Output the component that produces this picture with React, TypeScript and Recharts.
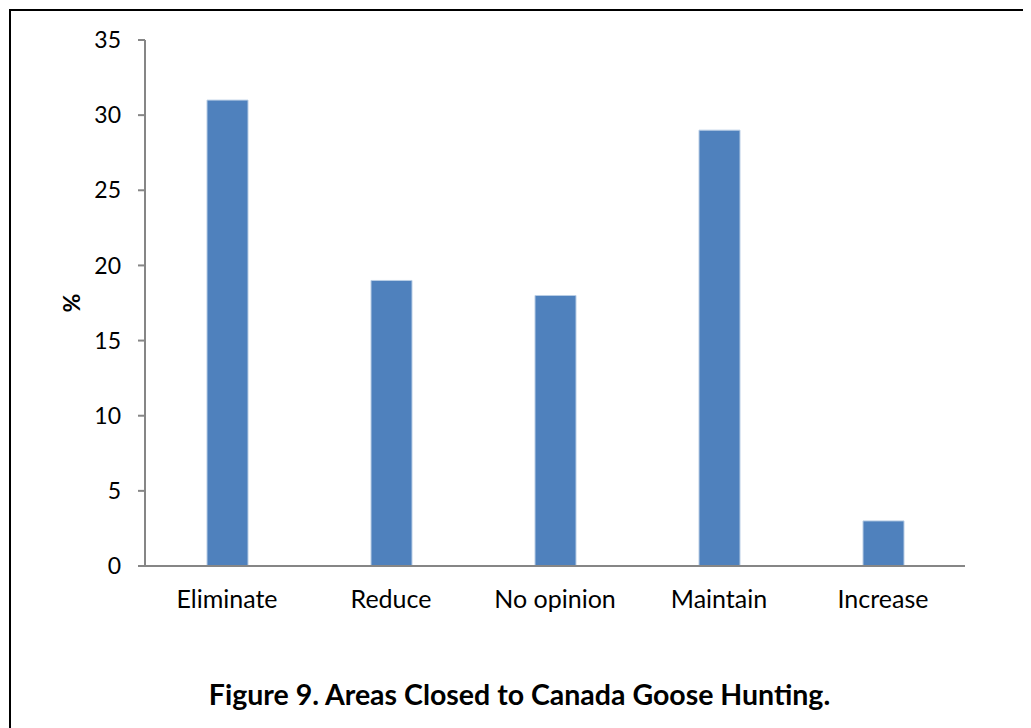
import React from "react";
import { BarChart, Bar, XAxis, YAxis, Label } from "recharts";

const categories = ["Eliminate", "Reduce", "No opinion", "Maintain", "Increase"];
const percentValues = [31, 19, 18, 29, 3];
const yTicks = [0, 5, 10, 15, 20, 25, 30, 35];
const titleText = "Figure 9. Areas Closed to Canada Goose Hunting.";
const yAxisLabel = "%";

const data = categories.map((name, i) => ({ name, value: percentValues[i] }));

const FONT = "Lato, 'Open Sans', sans-serif";

export default function App() {
  return (
    <div style={{ position: "relative", width: 1023, height: 720, fontFamily: FONT }}>
      <div
        style={{
          position: "absolute",
          left: 1,
          top: 1,
          width: 1040,
          height: 740,
          borderTop: "2px solid #000",
          borderLeft: "2px solid #000",
          boxSizing: "border-box",
        }}
      />
      <div style={{ position: "absolute", left: 0, top: 0 }}>
        <BarChart
          width={1023}
          height={720}
          data={data}
          margin={{ top: 32, right: 66, bottom: 132, left: 0 }}
          barCategoryGap={0}
        >
          <YAxis
            width={137}
            domain={[0, 35]}
            ticks={yTicks}
            interval={0}
            axisLine={{ stroke: "#868686", strokeWidth: 2 }}
            tickLine={{ stroke: "#868686", strokeWidth: 2 }}
            tickSize={7}
            tickMargin={17}
            tick={{ fill: "#000", fontSize: 23, fontFamily: FONT }}
          >
            <Label
              value={yAxisLabel}
              angle={-90}
              position="insideLeft"
              offset={64}
              style={{ fill: "#000", fontSize: 23, fontWeight: 700, fontFamily: FONT, textAnchor: "middle" }}
            />
          </YAxis>
          <XAxis
            dataKey="name"
            height={30}
            axisLine={{ stroke: "#868686", strokeWidth: 2 }}
            tickLine={false}
            tickMargin={18}
            interval={0}
            tick={{ fill: "#000", fontSize: 25, fontFamily: FONT }}
          />
          <Bar
            dataKey="value"
            fill="#4F81BD"
            stroke="#B9CDE5"
            strokeWidth={1}
            barSize={41}
            isAnimationActive={false}
          />
        </BarChart>
      </div>
      <div
        style={{
          position: "absolute",
          left: 0,
          width: 1023,
          top: 669,
          textAlign: "center",
          fontSize: 28.5,
          lineHeight: "34px",
          fontWeight: 700,
          color: "#000",
          fontFamily: FONT,
        }}
      >
        {titleText}
      </div>
    </div>
  );
}
